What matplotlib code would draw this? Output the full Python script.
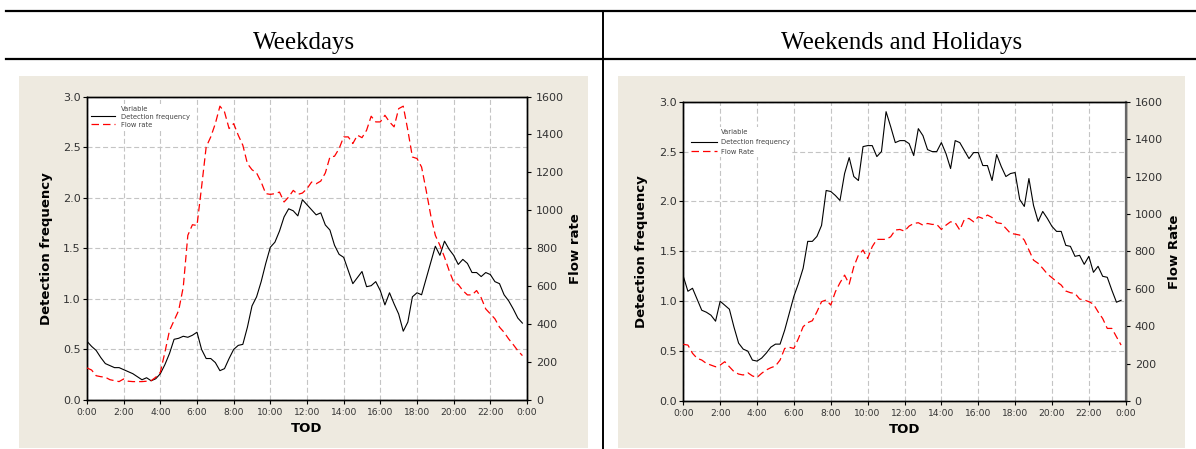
import numpy as np
import matplotlib
matplotlib.use("Agg")
import matplotlib.pyplot as plt
from matplotlib.lines import Line2D
from matplotlib.patches import Rectangle

# ---------------- data ----------------
tod_hours = np.arange(0, 24, 0.25)          # 15-min bins, 0:00 .. 23:45
x_ticks = list(range(0, 25, 2))
x_tick_labels = ["0:00", "2:00", "4:00", "6:00", "8:00", "10:00", "12:00",
                 "14:00", "16:00", "18:00", "20:00", "22:00", "0:00"]

wd_detection = [0.58, 0.53, 0.49, 0.42, 0.36, 0.34, 0.32, 0.32, 0.30, 0.28, 0.26, 0.23,
                0.20, 0.22, 0.19, 0.21, 0.26, 0.35, 0.46, 0.60, 0.61, 0.63, 0.62, 0.64,
                0.67, 0.50, 0.41, 0.41, 0.37, 0.29, 0.31, 0.41, 0.50, 0.54, 0.55, 0.72,
                0.93, 1.02, 1.17, 1.35, 1.51, 1.56, 1.67, 1.81, 1.89, 1.87, 1.82, 1.98,
                1.93, 1.88, 1.83, 1.85, 1.73, 1.68, 1.53, 1.44, 1.41, 1.28, 1.15, 1.21,
                1.27, 1.12, 1.13, 1.17, 1.08, 0.94, 1.06, 0.95, 0.85, 0.68, 0.77, 1.02,
                1.06, 1.04, 1.20, 1.36, 1.52, 1.43, 1.57, 1.49, 1.43, 1.34, 1.39, 1.35,
                1.26, 1.26, 1.22, 1.26, 1.24, 1.17, 1.15, 1.04, 0.98, 0.90, 0.81, 0.76]

wd_flow = [169, 158, 128, 123, 120, 107, 102, 97, 111, 99, 97, 97,
           97, 99, 102, 120, 146, 252, 366, 419, 472, 595, 868, 924,
           920, 1123, 1334, 1387, 1457, 1549, 1519, 1431, 1457, 1396, 1343, 1246,
           1214, 1197, 1149, 1088, 1084, 1088, 1096, 1044, 1070, 1105, 1084, 1091,
           1114, 1149, 1140, 1154, 1197, 1281, 1285, 1325, 1387, 1387, 1352, 1396,
           1383, 1422, 1496, 1466, 1466, 1501, 1466, 1440, 1536, 1549, 1422, 1281,
           1273, 1228, 1105, 973, 868, 815, 753, 683, 621, 609, 577, 554,
           554, 577, 539, 480, 454, 428, 384, 357, 322, 292, 260, 234]

we_detection = [1.25, 1.10, 1.13, 1.02, 0.91, 0.89, 0.86, 0.80, 1.00, 0.96, 0.92, 0.74,
                0.58, 0.52, 0.50, 0.41, 0.40, 0.43, 0.48, 0.54, 0.57, 0.57, 0.71, 0.88,
                1.05, 1.18, 1.33, 1.60, 1.60, 1.65, 1.76, 2.11, 2.10, 2.06, 2.01, 2.28,
                2.44, 2.25, 2.21, 2.55, 2.56, 2.56, 2.45, 2.50, 2.90, 2.75, 2.59, 2.61,
                2.61, 2.58, 2.46, 2.73, 2.66, 2.52, 2.50, 2.50, 2.59, 2.48, 2.33, 2.61,
                2.59, 2.51, 2.43, 2.49, 2.49, 2.36, 2.36, 2.21, 2.47, 2.35, 2.25, 2.28,
                2.29, 2.02, 1.95, 2.23, 1.96, 1.80, 1.90, 1.83, 1.75, 1.70, 1.70, 1.56,
                1.55, 1.45, 1.46, 1.37, 1.45, 1.29, 1.35, 1.25, 1.24, 1.11, 0.99, 1.01]

we_flow = [303, 299, 255, 228, 219, 201, 192, 183, 192, 210, 183, 157,
           144, 139, 151, 134, 126, 148, 166, 178, 187, 219, 281, 287,
           281, 335, 397, 419, 429, 477, 531, 540, 513, 584, 632, 673,
           625, 718, 780, 807, 762, 825, 864, 864, 864, 878, 914, 917,
           908, 935, 949, 953, 940, 949, 944, 944, 917, 940, 958, 953,
           914, 971, 976, 958, 985, 976, 994, 981, 953, 949, 923, 896,
           892, 887, 860, 807, 753, 736, 709, 679, 659, 638, 620, 588,
           579, 575, 545, 540, 531, 518, 477, 441, 388, 388, 343, 299]

panel_titles = ["Weekdays", "Weekends and Holidays"]
flow_labels = ["Flow rate", "Flow Rate"]

# ---------------- figure ----------------
W, H = 1196, 449
fig = plt.figure(figsize=(W / 100, H / 100), dpi=100)
fig.patch.set_facecolor("white")

def fx(px):
    return px / W

def fy(py):
    return 1 - py / H

beige = "#EEEAE0"
# panel backgrounds
fig.add_artist(Rectangle((fx(19), fy(448)), fx(569), (448 - 76) / H,
                         transform=fig.transFigure, facecolor=beige, edgecolor="none", zorder=0))
fig.add_artist(Rectangle((fx(618), fy(448)), fx(567), (448 - 76) / H,
                         transform=fig.transFigure, facecolor=beige, edgecolor="none", zorder=0))

# table rules
fig.add_artist(Line2D([fx(6), 1], [fy(11), fy(11)], transform=fig.transFigure, color="black", lw=1.6))
fig.add_artist(Line2D([fx(6), 1], [fy(59), fy(59)], transform=fig.transFigure, color="black", lw=1.6))
fig.add_artist(Line2D([fx(603), fx(603)], [fy(11), 0], transform=fig.transFigure, color="black", lw=1.4))

# headers
for cx, t in zip([304, 902], panel_titles):
    fig.text(fx(cx), fy(43), t, ha="center", va="center", fontsize=18,
             family="Liberation Serif", color="black")

axes_boxes = [
    (87, 96.5, 527, 400),     # left, top, right, bottom in px
    (683.3, 101.7, 1125.7, 401),
]
label_pos = [
    (-0.091, -0.094, 1.111),
    (-0.0934, -0.0936, 1.111),
]
legend_cfg = [
    dict(anchor=(0.004, 0.975), spacing=0.25, hlen=3.6, pad=0.85),
    dict(anchor=(0.012, 0.915), spacing=0.55, hlen=3.9, pad=0.5),
]

datasets = [(wd_detection, wd_flow), (we_detection, we_flow)]

grid_kw = dict(color="#c4c4c4", lw=0.8, linestyle=(0, (4.5, 2.5)))

for i, ((l, t, r, b), (det, flow)) in enumerate(zip(axes_boxes, datasets)):
    ax = fig.add_axes([fx(l), fy(b), fx(r - l), (b - t) / H])
    ax.set_facecolor("white")
    ax2 = ax.twinx()
    ax.set_zorder(1)
    ax2.set_zorder(2)

    l1, = ax.plot(tod_hours, det, color="black", lw=0.8, zorder=3)
    l2, = ax2.plot(tod_hours, flow, color="#FF0000", lw=0.9, zorder=3)
    l2.set_dashes([6.0, 3.2])

    ax.set_xlim(0, 24)
    ax.set_ylim(0, 3.0)
    ax2.set_ylim(0, 1600)
    ax.set_xticks(x_ticks)
    ax.set_xticklabels(x_tick_labels)
    ax.set_yticks(np.arange(0, 3.01, 0.5))
    ax.set_yticklabels([f"{v:.1f}" for v in np.arange(0, 3.01, 0.5)])
    ax2.set_yticks(range(0, 1601, 200))

    ax.grid(True, **grid_kw)
    ax.set_axisbelow(True)

    ax.tick_params(axis="x", direction="out", length=3, width=0.8, labelsize=6.6,
                   pad=2.5, labelcolor="#333333")
    ax.tick_params(axis="y", direction="out", length=3, width=0.8, labelsize=8,
                   pad=1.5, labelcolor="#333333")
    ax2.tick_params(axis="y", direction="out", length=3, width=0.8, labelsize=8,
                    pad=3.5, labelcolor="#333333")

    for a in (ax, ax2):
        for s in a.spines.values():
            s.set_linewidth(1.0)
            s.set_color("black")
    if i == 1:
        ax2.spines["right"].set_color("#666666")
        ax2.spines["right"].set_linewidth(1.6)

    lx, tx, rx = label_pos[i]
    ax.set_xlabel("TOD", fontsize=9.5, fontweight="bold")
    ax.xaxis.set_label_coords(0.5, tx)
    ax.xaxis.label.set_va("center")
    ax.set_ylabel("Detection frequency", fontsize=9.5, fontweight="bold")
    ax.yaxis.set_label_coords(lx, 0.5)
    ax.yaxis.label.set_va("center")
    ax2.set_ylabel(flow_labels[i], fontsize=9.5, fontweight="bold", rotation=90)
    ax2.yaxis.set_label_coords(rx, 0.5)
    ax2.yaxis.label.set_va("center")

    blank = Line2D([], [], color="none")
    cfg = legend_cfg[i]
    leg = ax2.legend([blank, l1, l2], ["Variable", "Detection frequency", flow_labels[i]],
                     loc="upper left", bbox_to_anchor=cfg["anchor"], fontsize=4.9,
                     frameon=True, facecolor="white", edgecolor="none", framealpha=1,
                     fancybox=False, borderpad=0.3, labelspacing=cfg["spacing"],
                     handlelength=cfg["hlen"], handletextpad=cfg["pad"], borderaxespad=0)
    for txt in leg.get_texts():
        txt.set_color("#444444")

fig.savefig("out.png", dpi=100, facecolor="white")
